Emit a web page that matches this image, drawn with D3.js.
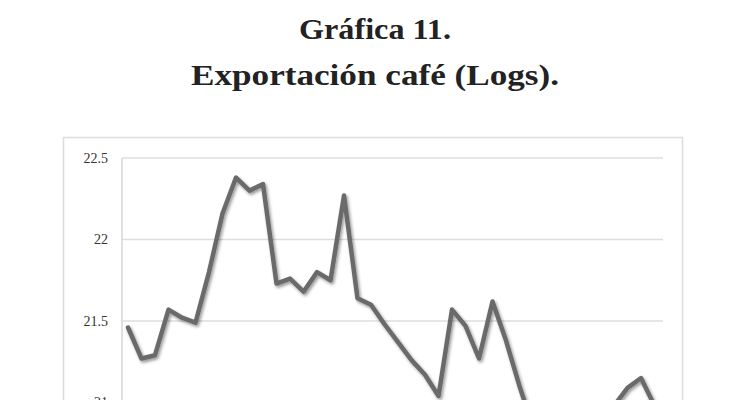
<!DOCTYPE html>
<html>
<head>
<meta charset="utf-8">
<script src="https://cdn.jsdelivr.net/npm/d3@7/dist/d3.min.js"></script>
<style>
html,body{margin:0;padding:0;background:#fff;overflow:hidden;}
svg{display:block;}
</style>
</head>
<body>
<svg id="chart" width="730" height="400"></svg>
<script>
const titleLines = ["Gráfica 11.", "Exportación café (Logs)."];
const yTicks = [21, 21.5, 22, 22.5];
const yTickLabels = ["21", "21.5", "22", "22.5"];
const periods = d3.range(1, 41);
const values = [
  21.46, 21.27, 21.29, 21.57, 21.52, 21.49, 21.80, 22.16, 22.38, 22.30,
  22.34, 21.73, 21.76, 21.68, 21.80, 21.75, 22.27, 21.64, 21.60, 21.48,
  21.37, 21.26, 21.17, 21.04, 21.57, 21.47, 21.27, 21.62, 21.38, 21.10,
  20.85, 20.75, 20.78, 20.88, 20.97, 20.99, 20.98, 21.09, 21.15, 20.98
];

const svg = d3.select("#chart");

const defs = svg.append("defs");
const f = defs.append("filter").attr("id", "shadow")
  .attr("x", "-10%").attr("y", "-10%").attr("width", "120%").attr("height", "120%");
f.append("feDropShadow").attr("dx", 1.5).attr("dy", 2).attr("stdDeviation", 1.6)
  .attr("flood-color", "#000").attr("flood-opacity", 0.4);

// title
const titleWidths = [152, 368];
const titleBaselines = [39, 85];
svg.selectAll("text.title").data(titleLines).enter().append("text")
  .attr("class", "title")
  .attr("x", 375)
  .attr("y", (d, i) => titleBaselines[i])
  .attr("text-anchor", "middle")
  .attr("textLength", (d, i) => titleWidths[i])
  .attr("lengthAdjust", "spacingAndGlyphs")
  .style("font-family", "'Liberation Serif', 'DejaVu Serif', serif")
  .style("font-weight", "bold")
  .style("font-size", "30px")
  .style("fill", "#222")
  .text(d => d);

// outer frame
svg.append("rect")
  .attr("x", 63.5).attr("y", 137.5).attr("width", 619).attr("height", 400)
  .attr("fill", "none").attr("stroke", "#dcdcdc").attr("stroke-width", 1.5);

const left = 122, right = 663;
const x = d3.scaleLinear().domain([1, 40]).range([128, 654.5]);
const y = d3.scaleLinear().domain([21, 22.5]).range([402.5, 158]);

// gridlines
svg.append("g").selectAll("line").data(yTicks).enter().append("line")
  .attr("x1", left).attr("x2", right)
  .attr("y1", d => y(d)).attr("y2", d => y(d))
  .attr("stroke", "#dedede").attr("stroke-width", 1.5);

// y axis line
svg.append("line").attr("x1", left).attr("x2", left)
  .attr("y1", y(22.5)).attr("y2", 400)
  .attr("stroke", "#d6d6d6").attr("stroke-width", 1.5);

// y axis labels
const yAxis = d3.axisLeft(y).tickValues(yTicks)
  .tickFormat((d, i) => yTickLabels[i]).tickSize(0).tickPadding(14);
const ga = svg.append("g").attr("transform", `translate(${left},0)`).call(yAxis);
ga.select(".domain").remove();
ga.selectAll("text")
  .style("font-family", "'Liberation Serif', 'DejaVu Serif', serif")
  .style("font-size", "14px")
  .style("fill", "#333");

// line
const line = d3.line().x((d, i) => x(periods[i])).y(d => y(d));
svg.append("path")
  .datum(values)
  .attr("d", line)
  .attr("fill", "none")
  .attr("stroke", "#6b6b6b")
  .attr("stroke-width", 4.5)
  .attr("stroke-linejoin", "round")
  .attr("stroke-linecap", "round")
  .attr("filter", "url(#shadow)");
</script>
</body>
</html>
